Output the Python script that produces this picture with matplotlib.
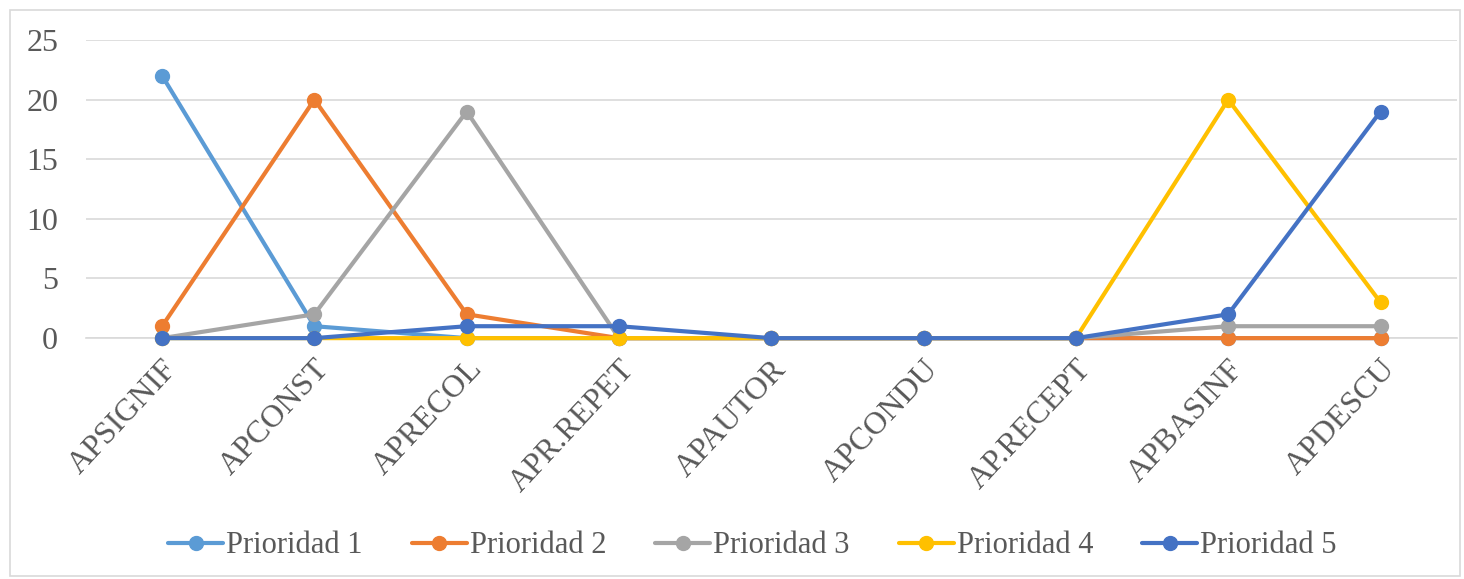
import matplotlib
matplotlib.use("Agg")
import matplotlib.pyplot as plt
from matplotlib.patches import Rectangle

plt.rcParams['font.family'] = ['Liberation Serif', 'DejaVu Serif']

# data
categorias = ['APSIGNIF', 'APCONST', 'APRECOL', 'APR.REPET', 'APAUTOR',
              'APCONDU', 'AP.RECEPT', 'APBASINF', 'APDESCU']
prioridad_1 = [22, 1, 0, 0, 0, 0, 0, 0, 0]
prioridad_2 = [1, 20, 2, 0, 0, 0, 0, 0, 0]
prioridad_3 = [0, 2, 19, 0, 0, 0, 0, 1, 1]
prioridad_4 = [0, 0, 0, 0, 0, 0, 0, 20, 3]
prioridad_5 = [0, 0, 1, 1, 0, 0, 0, 2, 19]

series = [
    ('Prioridad 1', prioridad_1, '#5B9BD5'),
    ('Prioridad 2', prioridad_2, '#ED7D31'),
    ('Prioridad 3', prioridad_3, '#A5A5A5'),
    ('Prioridad 4', prioridad_4, '#FFC000'),
    ('Prioridad 5', prioridad_5, '#4472C4'),
]

fig = plt.figure(figsize=(14.64, 5.79), dpi=100)
ax = fig.add_axes([0.0587, 0.416, 0.9363, 0.515])

x = range(len(categorias))
for nombre, valores, color in series:
    ax.plot(x, valores, color=color, lw=3, marker='o', markersize=10,
            label=nombre, solid_capstyle='round', clip_on=False, zorder=3)

ax.set_xlim(-0.5, len(categorias) - 0.5)
ax.set_ylim(0, 25)
ax.set_yticks([0, 5, 10, 15, 20, 25])
ax.set_xticks(list(x))
ax.set_xticklabels(categorias, rotation=47, ha='right', rotation_mode='anchor')
ax.tick_params(axis='both', length=0, labelsize=23, labelcolor='#595959')
ax.tick_params(axis='y', pad=20)
ax.tick_params(axis='x', pad=12)
ax.grid(axis='y', color='#D9D9D9', lw=1.2, zorder=0)
for s in ['top', 'right', 'left']:
    ax.spines[s].set_visible(False)
ax.spines['bottom'].set_color('#D9D9D9')
ax.spines['bottom'].set_linewidth(1.2)

fig.legend(loc='center', bbox_to_anchor=(0.514, 0.057), ncol=5, frameon=False,
           fontsize=22, labelcolor='#595959', handlelength=1.8,
           handletextpad=0.1, columnspacing=1.6, borderpad=0.2)

fig.patches.append(Rectangle((0.007, 0.005), 0.99, 0.978, transform=fig.transFigure,
                             fill=False, edgecolor='#D9D9D9', lw=1.2))

fig.savefig('out.png', dpi=100)
